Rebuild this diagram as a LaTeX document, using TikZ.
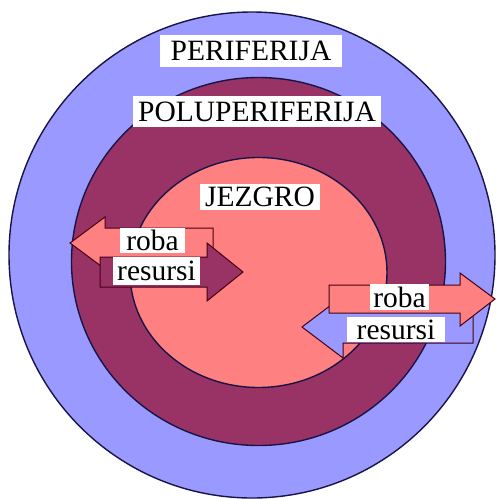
\documentclass[tikz,border=0pt]{standalone}
\usepackage{fontspec}
\setmainfont{Liberation Serif}

\definecolor{periblue}{RGB}{153,153,255}
\definecolor{semiplum}{RGB}{153,51,102}
\definecolor{coresalmon}{RGB}{255,128,128}
\definecolor{rimline}{RGB}{25,20,70}
\definecolor{arrowline}{RGB}{70,0,20}

\tikzset{
    ring/.style={draw=rimline, line width=1.4pt},
    flowarrow/.style={draw=arrowline, line width=1pt, line join=miter},
    labelbox/.style={fill=white, inner sep=0pt, font=\fontsize{29.5}{30}\selectfont}
}

\begin{document}
\begin{tikzpicture}[x=1pt,y=-1pt]
                \useasboundingbox (0,0) rectangle (496,499);
                % rings
                \draw[ring, fill=periblue] (252,255) ellipse [x radius=243pt, y radius=243pt];
                \draw[ring, fill=semiplum] (258.5,261.5) ellipse [x radius=187pt, y radius=184pt];
                \draw[ring, fill=coresalmon] (258.5,272.5) ellipse [x radius=128.5pt, y radius=115pt];
                % left pair of arrows
                \draw[flowarrow, fill=coresalmon] (70,243) -- (105,217) -- (105,228) -- (213,228) -- (213,258) -- (105,258) -- (105,269) -- cycle;
                \draw[flowarrow, fill=semiplum] (100,257) -- (207,257) -- (207,243) -- (243,272) -- (207,301) -- (207,287) -- (100,287) -- cycle;
                % right pair of arrows
                \draw[flowarrow, fill=periblue] (302,327) -- (343,296) -- (343,311) -- (473,311) -- (473,343) -- (343,343) -- (343,358) -- cycle;
                \draw[flowarrow, fill=coresalmon] (329,285) -- (460,285) -- (460,273) -- (495,299) -- (460,326) -- (460,313) -- (329,313) -- cycle;
                % labels
                \node[labelbox, minimum width=182pt, minimum height=32pt] (periferija) at (251,51) {PERIFERIJA};
                \node[labelbox, minimum width=248pt, minimum height=31pt] (poluperiferija) at (257,111.5) {POLUPERIFERIJA};
                \node[labelbox, minimum width=120pt, minimum height=26pt] (jezgro) at (260,197) {JEZGRO};
                \node[labelbox, minimum width=65pt, minimum height=25pt] (robaleft) at (152.5,240.5) {roba};
                \node[labelbox, minimum width=87pt, minimum height=28pt] (resursileft) at (156.5,271) {resursi};
                \node[labelbox, minimum width=59pt, minimum height=26pt] (robaright) at (399.5,297) {roba};
                \node[labelbox, minimum width=98pt, minimum height=25pt] (resursiright) at (396,329.5) {resursi};
            \end{tikzpicture}
\end{document}
